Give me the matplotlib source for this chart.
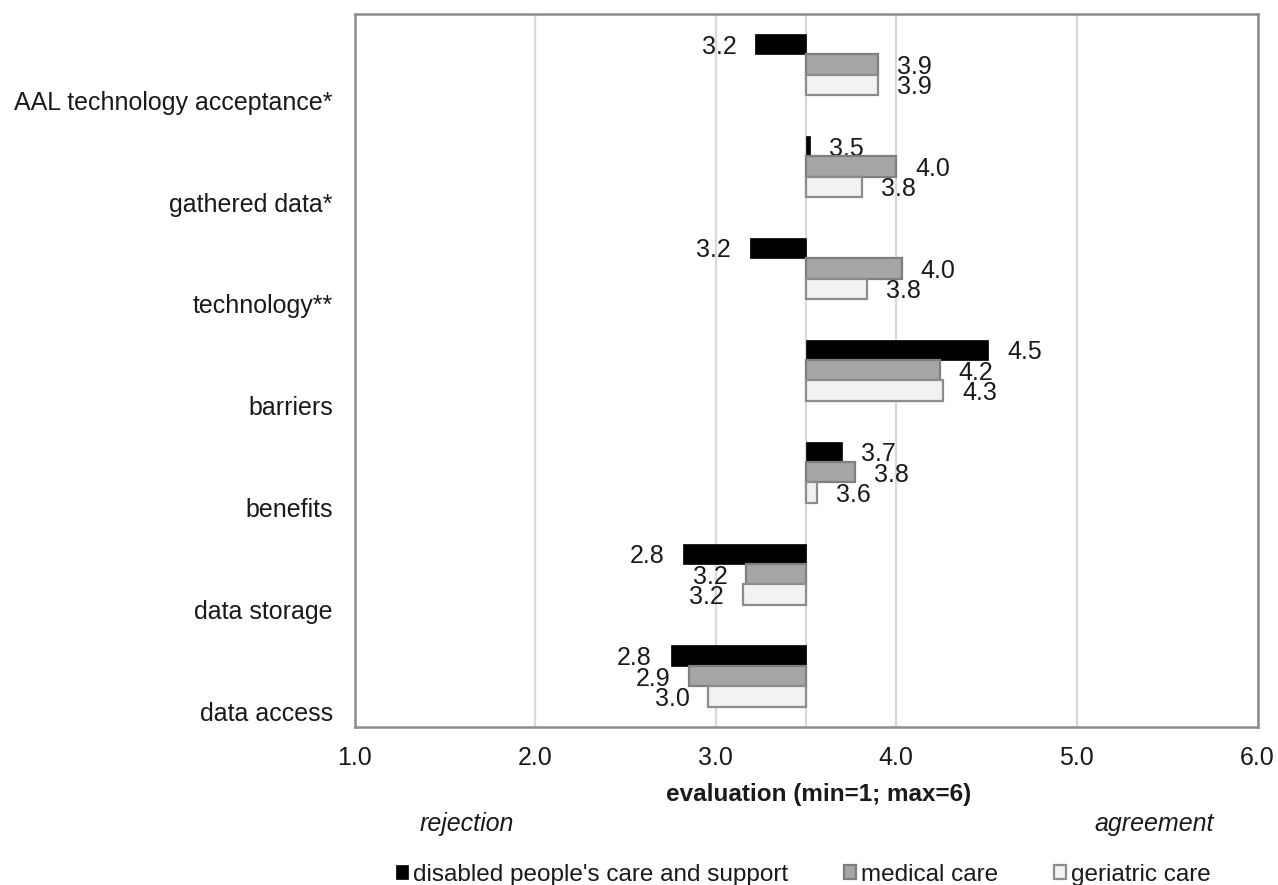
import matplotlib
matplotlib.use("Agg")
import matplotlib.pyplot as plt
import numpy as np

categories = ["AAL technology acceptance*", "gathered data*", "technology**",
              "barriers", "benefits", "data storage", "data access"]
series_names = ["disabled people's care and support", "medical care", "geriatric care"]
disabled = [3.22, 3.52, 3.19, 4.51, 3.70, 2.82, 2.751]
medical = [3.90, 4.00, 4.03, 4.24, 3.77, 3.17, 2.852]
geriatric = [3.90, 3.81, 3.84, 4.26, 3.56, 3.152, 2.96]
x_ticks = [1.0, 2.0, 3.0, 4.0, 5.0, 6.0]
x_ticklabels = ["1.0", "2.0", "3.0", "4.0", "5.0", "6.0"]
midpoint = 3.5

plt.rcParams['font.family'] = ['Liberation Sans', 'DejaVu Sans']

W, H = 1278, 885
fig = plt.figure(figsize=(W / 100, H / 100), dpi=100)
ax = fig.add_axes([354.5 / W, 1 - 727 / H, (1257.5 - 354.5) / W, (727 - 13.5) / H])

fs = 18
tc = "#1a1a1a"
n = len(categories)
y = np.arange(n)
bh = 0.2
series = [disabled, medical, geriatric]
faces = ["#000000", "#a6a6a6", "#f2f2f2"]
edges = ["#000000", "#7f7f7f", "#8c8c8c"]
lws = [0.5, 1.6, 1.6]
handles = []
for k, (vals, fc, ec, lw) in enumerate(zip(series, faces, edges, lws)):
    vals = np.array(vals)
    pos = y + (k - 1) * bh
    b = ax.barh(pos, vals - midpoint, left=midpoint, height=bh, color=fc,
                edgecolor=ec, linewidth=lw, zorder=3, label=series_names[k])
    handles.append(b)
    for v, p in zip(vals, pos):
        if v >= midpoint:
            ax.annotate(f"{v:.1f}", (v, p), xytext=(19, 0), textcoords="offset pixels",
                        ha="left", va="center_baseline", fontsize=fs, color=tc)
        else:
            ax.annotate(f"{v:.1f}", (v, p), xytext=(-19, 0), textcoords="offset pixels",
                        ha="right", va="center_baseline", fontsize=fs, color=tc)

ax.set_xlim(1, 6)
ax.set_ylim(n - 0.5, -0.5)
ax.set_xticks(x_ticks)
ax.set_xticklabels(x_ticklabels, fontsize=fs, color=tc)
ax.set_yticks(y + 0.35)
ax.set_yticklabels(categories, fontsize=fs, color=tc)
ax.tick_params(axis="both", length=0)
ax.tick_params(axis="y", pad=15.5)
ax.tick_params(axis="x", pad=14)
ax.grid(axis="x", color="#d9d9d9", linewidth=1.6, zorder=0)
ax.axvline(midpoint, color="#d9d9d9", linewidth=1.6, zorder=1)
for s in ax.spines.values():
    s.set_color("#8c8c8c")
    s.set_linewidth(1.8)

fig.text(819 / W, 1 - 795 / H, "evaluation (min=1; max=6)", ha="center", va="center",
         fontsize=17.5, fontweight="bold", color=tc)
fig.text(467 / W, 1 - 824 / H, "rejection", ha="center", va="center",
         fontsize=fs, style="italic", color=tc)
fig.text(1154 / W, 1 - 824 / H, "agreement", ha="center", va="center",
         fontsize=fs, style="italic", color=tc)

leg = fig.legend(handles=handles, loc="center", bbox_to_anchor=(803 / W, 1 - 875 / H),
                 ncol=3, frameon=False, fontsize=17.5, handlelength=0.5, handleheight=0.5,
                 handletextpad=0.2, columnspacing=2.3, labelcolor=tc)

fig.savefig("out.png", dpi=100, facecolor="white")
